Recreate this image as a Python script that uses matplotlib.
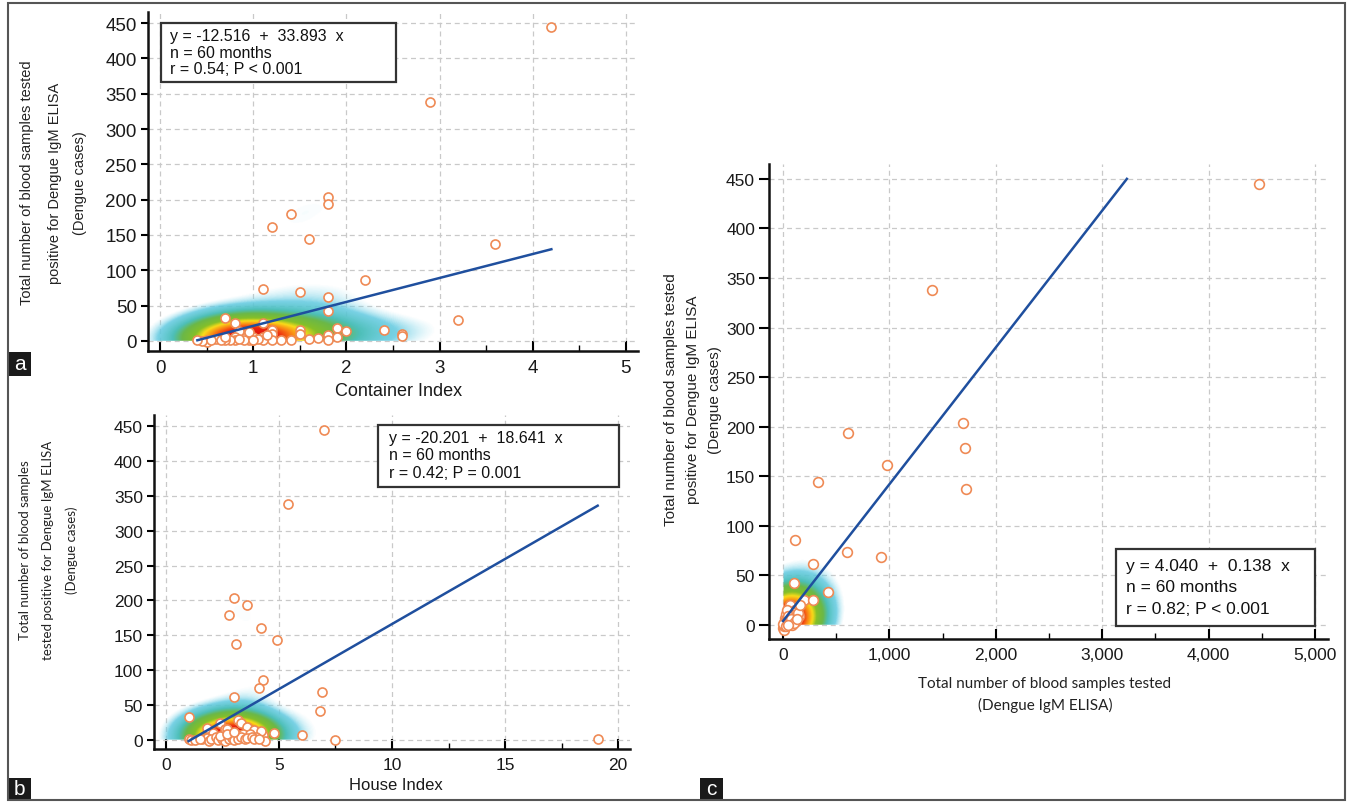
"""Dengue cases vs container index, house index and samples tested (three scatter panels)"""

import matplotlib

matplotlib.use("Agg")
import matplotlib.pyplot as plt
import numpy as np
from matplotlib.colors import LinearSegmentedColormap
from matplotlib.patches import Rectangle
from matplotlib.ticker import FuncFormatter, MultipleLocator

W, H = 1348, 803

# panel a: container index vs dengue cases
container_index = [4.2, 2.9, 1.8, 1.8, 1.4, 1.2, 1.6, 3.6, 2.2, 1.1, 1.5, 1.8, 1.8, 3.2, 0.7,
                   0.8, 1.1, 2.4, 2.6, 2.6, 1.9, 2.0, 1.9, 1.8, 1.8, 1.7, 1.6, 1.5, 1.5, 1.4,
                   1.2, 1.2, 1.2, 1.1, 1.1, 1.0, 0.95, 0.9, 0.9, 0.9, 0.85, 0.8, 0.8, 0.75, 0.7,
                   0.6, 0.5, 0.5, 0.45, 0.4, 1.0, 1.05, 0.95, 1.3, 0.65, 1.15, 0.55, 0.85, 1.0, 0.7]
cases_a = [445, 338, 204, 194, 179, 161, 144, 137, 86, 74, 69, 62, 42, 29, 33,
           25, 25, 16, 10, 7, 18, 14, 5, 8, 1, 4, 3, 16, 10, 1,
           16, 10, 2, 5, 1, 2, 1, 10, 4, 1, 14, 5, 1, 2, 1,
           3, 1, -2, 0, 2, 6, 3, 12, 2, 1, 8, 2, 3, 1, 6]

# panel b: house index vs dengue cases
house_index = [7.0, 5.4, 3.0, 3.6, 2.8, 4.2, 4.9, 3.1, 4.3, 4.1, 6.9, 3.0, 6.8, 1.0, 19.1,
               7.5, 6.0, 4.8, 4.3, 4.4, 3.2, 3.3, 2.4, 3.6, 3.9, 4.2, 2.6, 2.7, 1.8, 2.1,
               2.9, 3.1, 3.4, 3.7, 4.0, 1.0, 1.1, 1.3, 1.6, 1.8, 1.9, 2.0, 2.2, 2.3, 2.5,
               2.6, 2.8, 2.9, 3.0, 3.2, 3.3, 3.5, 3.6, 3.8, 3.9, 4.1, 2.4, 2.7, 3.0, 1.5]
cases_b = [445, 338, 204, 194, 179, 161, 144, 137, 86, 74, 69, 62, 42, 33, 1,
           0, 7, 10, 7, -1, 29, 24, 25, 18, 15, 13, 16, 16, 17, 10,
           8, 8, 9, 8, 5, 1, 0, 0, 2, 3, -1, 1, 4, 0, 2,
           -1, 1, 3, 0, 2, 5, 1, 3, 4, 1, 2, 6, 9, 12, 1]

# panel c: samples tested vs dengue cases
samples_tested = [4470, 1400, 1690, 610, 1710, 980, 330, 1720, 110, 600, 920, 280, 100, 420, 200,
                  280, 150, 130, 60, 70, 40, 90, 20, 30, 10, 5, 0, 15, 25, 8,
                  45, 55, 35, 70, 110, 18, 12, 22, 30, 50, 65, 80, 95, 40, 28,
                  6, 16, 38, 48, 2, 60, 75, 120, 85, 100, 140, 160, 130, 30, 45]
cases_c = [445, 338, 204, 194, 179, 161, 144, 137, 86, 74, 69, 62, 42, 33, 25,
           25, 9, 18, 17, 12, 10, 8, 5, 3, 1, 0, -3, -2, 0, 2,
           6, 14, 8, 20, 15, 7, -5, 4, 11, 3, 5, 13, 10, 1, 2,
           -1, 3, 15, 9, 1, 2, 6, 4, 0, 2, 12, 20, 6, -1, 0]

fits = {
    "a": (-12.516, 33.893, "y = -12.516  +  33.893  x", "r = 0.54; P < 0.001"),
    "b": (-20.201, 18.641, "y = -20.201  +  18.641  x", "r = 0.42; P = 0.001"),
    "c": (4.040, 0.138, "y = 4.040  +  0.138  x", "r = 0.82; P < 0.001"),
}

ORANGE = "#ef8a55"
BLUE = "#1f4f9e"
GRID = "#c9c9c9"

dens_cmap = LinearSegmentedColormap.from_list("dens", [
    (0.0, (0.62, 0.88, 0.94, 0.0)),
    (0.09, (0.58, 0.87, 0.94, 0.0)),
    (0.17, (0.38, 0.79, 0.88, 0.85)),
    (0.30, (0.30, 0.75, 0.72, 1.0)),
    (0.40, (0.42, 0.72, 0.28, 1.0)),
    (0.55, (0.52, 0.75, 0.16, 1.0)),
    (0.65, (0.98, 0.86, 0.10, 1.0)),
    (0.77, (0.98, 0.50, 0.08, 1.0)),
    (0.88, (0.92, 0.14, 0.06, 1.0)),
    (1.0, (0.88, 0.08, 0.05, 1.0)),
])

fig = plt.figure(figsize=(W / 100, H / 100), dpi=100)


def fx(x):
    return x / W


def fy(y):
    return 1 - y / H


def add_axes(x0, y_top, x1, y_bot):
    return fig.add_axes([fx(x0), fy(y_bot), (x1 - x0) / W, (y_bot - y_top) / H])


def density(ax, xs, ys, bx, by, clip_x=False):
    xlim, ylim = ax.get_xlim(), ax.get_ylim()
    gx = np.linspace(xlim[0], xlim[1], 500)
    gy = np.linspace(ylim[0], ylim[1], 500)
    X, Y = np.meshgrid(gx, gy)
    D = np.zeros_like(X)
    for x, y in zip(xs, ys):
        D += np.exp(-0.5 * (((X - x) / bx) ** 2 + ((Y - y) / by) ** 2))
    D /= D.max()
    rgba = dens_cmap(D)
    rgba[Y < 0, 3] = 0
    if clip_x:
        rgba[X < 0, 3] = 0
    ax.imshow(rgba, extent=(xlim[0], xlim[1], ylim[0], ylim[1]), origin="lower",
              aspect="auto", zorder=1, interpolation="bilinear")


def style(ax, xlim, ylim, xmajor, xminor, font, size):
    ax.set_xlim(xlim)
    ax.set_ylim(ylim)
    for s in ("top", "right"):
        ax.spines[s].set_visible(False)
    for s in ("left", "bottom"):
        ax.spines[s].set_linewidth(1.8)
        ax.spines[s].set_color("#111111")
    ax.xaxis.set_major_locator(MultipleLocator(xmajor))
    ax.xaxis.set_minor_locator(MultipleLocator(xminor))
    ax.yaxis.set_major_locator(MultipleLocator(50))
    ax.tick_params(axis="x", which="major", direction="in", length=7, width=1.5, pad=6,
                   labelsize=size, labelfontfamily=font, labelcolor="#1a1a1a")
    ax.tick_params(axis="x", which="minor", direction="in", length=4, width=1)
    ax.tick_params(axis="y", direction="out", length=5, width=1.5, pad=3,
                   labelsize=size, labelfontfamily=font, labelcolor="#1a1a1a")
    ax.grid(True, which="major", color=GRID, linestyle=(0, (4, 3)), linewidth=0.9)
    ax.set_axisbelow(True)


def scatter_fit(ax, xs, ys, key, x_end=None, ms=6.5):
    b0, b1 = fits[key][0], fits[key][1]
    x0 = min(xs)
    x1 = max(xs) if x_end is None else x_end
    ax.plot([x0, x1], [b0 + b1 * x0, b0 + b1 * x1], color=BLUE, lw=1.8, zorder=4)
    ax.plot(xs, ys, "o", ms=ms, mfc="white", mec=ORANGE, mew=1.2, zorder=3, clip_on=False)


def stat_box(x0, y0, x1, y1, tx, lines_y, texts, font, size):
    fig.patches.append(Rectangle((fx(x0), fy(y1)), (x1 - x0) / W, (y1 - y0) / H,
                                 transform=fig.transFigure, facecolor="white",
                                 edgecolor="#333333", lw=1.6, zorder=5))
    for y, t in zip(lines_y, texts):
        fig.text(fx(tx), fy(y), t, fontsize=size, family=font, va="center", ha="left",
                 color="#111111", zorder=6)


def ylabel_lines(xs, yc, texts, font, size):
    for x, t in zip(xs, texts):
        fig.text(fx(x), fy(yc), t, rotation=90, fontsize=size, family=font,
                 ha="center", va="center", color="#222222")


def panel_tag(x0, y0, x1, y1, letter):
    fig.patches.append(Rectangle((fx(x0), fy(y1)), (x1 - x0) / W, (y1 - y0) / H,
                                 transform=fig.transFigure, facecolor="#1a1a1a",
                                 edgecolor="none", zorder=5))
    fig.text(fx((x0 + x1) / 2), fy((y0 + y1) / 2), letter, color="white", fontsize=15,
             family="Liberation Sans", ha="center", va="center", zorder=6)


# ---- panel a
ax_a = add_axes(148, 13, 638, 352)
style(ax_a, (-0.13, 5.13), (-14.2, 465.6), 1, 0.5, "Liberation Sans", 13.5)
density(ax_a, container_index, cases_a, 0.42, 22)
scatter_fit(ax_a, container_index, cases_a, "a")
stat_box(161, 24, 396, 83, 170, [36, 53, 70],
         [fits["a"][2], "n = 60 months", fits["a"][3]], "Liberation Sans", 11.5)
ylabel_lines([27, 55, 80], 183, ["Total number of blood samples tested",
                                 "positive for Dengue IgM ELISA", "(Dengue cases)"],
             "Liberation Sans", 10.5)
fig.text(fx(399), fy(392), "Container Index", fontsize=13, family="Liberation Sans",
         ha="center", va="center", color="#1a1a1a")

# ---- panel b
ax_b = add_axes(154, 416, 630, 750)
style(ax_b, (-0.53, 20.53), (-12.9, 465.8), 5, 2.5, "Liberation Sans", 12.5)
density(ax_b, house_index, cases_b, 1.1, 22)
scatter_fit(ax_b, house_index, cases_b, "b")
stat_box(378, 426, 619, 488, 389, [439, 456, 474],
         [fits["b"][2], "n = 60 months", fits["b"][3]], "Liberation Sans", 11.5)
ylabel_lines([25, 48, 72], 550, ["Total number of blood samples",
                                 "tested positive for Dengue IgM ELISA", "(Dengue cases)"],
             "Lato", 9.5)
fig.text(fx(396), fy(786), "House Index", fontsize=12, family="Liberation Sans",
         ha="center", va="center", color="#1a1a1a")

# ---- panel c
ax_c = add_axes(769, 165, 1328, 640)
style(ax_c, (-132, 5122), (-14.1, 465), 1000, 500, "Liberation Sans", 12.5)
ax_c.xaxis.set_major_formatter(FuncFormatter(lambda v, p: f"{int(v):,}"))
ax_c.tick_params(axis="y", length=7)
density(ax_c, samples_tested, cases_c, 220, 22, clip_x=True)
scatter_fit(ax_c, samples_tested, cases_c, "c", x_end=(450 - 4.040) / 0.138, ms=7)
stat_box(1116, 550, 1315, 627, 1126, [567, 588, 610],
         [fits["c"][2], "n = 60 months", fits["c"][3]], "Liberation Sans", 12.5)
ylabel_lines([671, 693, 715], 400, ["Total number of blood samples tested",
                                    "positive for Dengue IgM ELISA", "(Dengue cases)"],
             "Liberation Sans", 11)
fig.text(fx(1045), fy(684), "Total number of blood samples tested", fontsize=11,
         family="Lato", ha="center", va="center", color="#222222")
fig.text(fx(1045), fy(705), "(Dengue IgM ELISA)", fontsize=11,
         family="Lato", ha="center", va="center", color="#222222")

# ---- panel tags and outer frame
panel_tag(8, 353, 31, 377, "a")
panel_tag(8, 779, 31, 801, "b")
panel_tag(700, 779, 723, 801, "c")
fig.patches.append(Rectangle((fx(8), fy(801)), (1345 - 8) / W, (801 - 4) / H,
                             transform=fig.transFigure, facecolor="none",
                             edgecolor="#555555", lw=1.5, zorder=7))

fig.savefig("out.png", dpi=100)
